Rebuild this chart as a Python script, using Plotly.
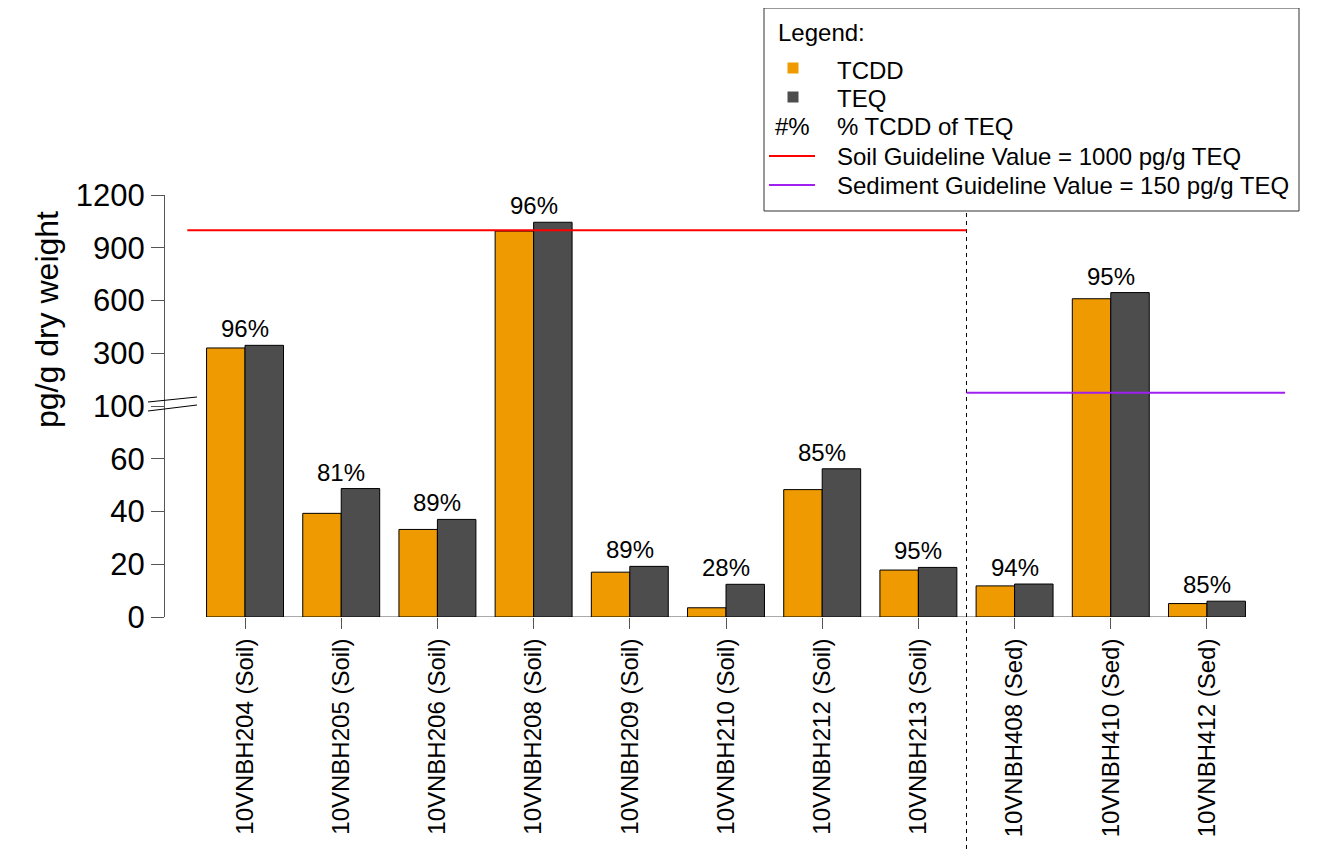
import numpy as np
import plotly.graph_objects as go

# ---------------- data ----------------
samples = ["10VNBH204 (Soil)", "10VNBH205 (Soil)", "10VNBH206 (Soil)", "10VNBH208 (Soil)",
           "10VNBH209 (Soil)", "10VNBH210 (Soil)", "10VNBH212 (Soil)", "10VNBH213 (Soil)",
           "10VNBH408 (Sed)", "10VNBH410 (Sed)", "10VNBH412 (Sed)"]
tcdd = [330, 39.3, 33.2, 995, 17.0, 3.5, 48.3, 17.8, 11.8, 610, 5.1]
teq = [345, 48.7, 37.0, 1045, 19.2, 12.4, 56.2, 18.8, 12.5, 645, 6.0]
pct_labels = ["96%", "81%", "89%", "96%", "89%", "28%", "85%", "95%", "94%", "95%", "85%"]
y_tick_values = [0, 20, 40, 60, 100, 300, 600, 900, 1200]
soil_guideline = 1000
sediment_guideline = 150

# ---------------- layout constants ----------------
OFF = 8  # page body margin in the browser
W, H = 1317 - 2 * OFF, 861 - 2 * OFF
PL, PR, PT, PB = 165, 1287, 195, 617     # plot area in window pixels
L, T = PL - OFF, PT - OFF
R, B = W - (PR - OFF), H - (PB - OFF)
PW, PH = PR - PL, PB - PT
FONT = "Liberation Sans, Arial, Helvetica, sans-serif"
ORANGE = "#EE9A00"
GREY = "#4D4D4D"
AXC = "#555555"

disp_idx = np.arange(len(y_tick_values))


def to_disp(v):
    return np.interp(v, y_tick_values, disp_idx)


def pxx(p):
    return (p - PL) / PW


def pxy(p):
    return (PB - p) / PH


centers = np.arange(len(samples)) * 2.5
n_soil = sum(1 for s in samples if "Soil" in s)
split_x = (centers[n_soil - 1] + centers[n_soil]) / 2

fig = go.Figure()
fig.add_trace(go.Bar(x=centers - 0.5, y=to_disp(tcdd), width=1, name="TCDD",
                     marker=dict(color=ORANGE, line=dict(color="black", width=1)),
                     hoverinfo="skip"))
fig.add_trace(go.Bar(x=centers + 0.5, y=to_disp(teq), width=1, name="TEQ",
                     marker=dict(color=GREY, line=dict(color="black", width=1)),
                     hoverinfo="skip"))

shapes = []
shapes.append(dict(type="line", xref="x", yref="y", x0=centers[0], x1=centers[-1], y0=0, y1=0,
                   line=dict(color=AXC, width=1), layer="below"))
shapes.append(dict(type="line", xref="x", yref="paper", x0=split_x, x1=split_x,
                   y0=pxy(857), y1=pxy(OFF), line=dict(color="black", width=1, dash="4px,4px")))
shapes.append(dict(type="line", xref="x", yref="y", x0=-1.5, x1=split_x,
                   y0=float(to_disp(soil_guideline)), y1=float(to_disp(soil_guideline)),
                   line=dict(color="#FF0000", width=2)))
shapes.append(dict(type="line", xref="x", yref="y", x0=split_x, x1=27.03,
                   y0=float(to_disp(sediment_guideline)), y1=float(to_disp(sediment_guideline)),
                   line=dict(color="#A020F0", width=2)))
for (ya, yb) in [(402, 397), (411, 405)]:
    shapes.append(dict(type="line", xref="paper", yref="paper", x0=pxx(148), x1=pxx(197),
                       y0=pxy(ya), y1=pxy(yb), line=dict(color="black", width=1)))
shapes.append(dict(type="rect", xref="paper", yref="paper", x0=pxx(764), x1=pxx(1299),
                   y0=pxy(211), y1=pxy(8), fillcolor="white", line=dict(color="#333333", width=1)))
for yc, col in [(68, ORANGE), (97, GREY)]:
    shapes.append(dict(type="rect", xref="paper", yref="paper", x0=pxx(787.5), x1=pxx(798.5),
                       y0=pxy(yc + 5.5), y1=pxy(yc - 5.5), fillcolor=col, line=dict(width=0)))
for yc, col in [(156, "#FF0000"), (185, "#A020F0")]:
    shapes.append(dict(type="line", xref="paper", yref="paper", x0=pxx(769), x1=pxx(815),
                       y0=pxy(yc), y1=pxy(yc), line=dict(color=col, width=2)))

annotations = []
for c, a, b, lab in zip(centers, tcdd, teq, pct_labels):
    annotations.append(dict(x=c, y=float(to_disp(max(a, b))), xref="x", yref="y", text=lab,
                            showarrow=False, yanchor="bottom", xanchor="center", yshift=1,
                            font=dict(size=24, color="black", family=FONT)))
annotations.append(dict(x=pxx(47), y=pxy(320), xref="paper", yref="paper", text="pg/g dry weight",
                        textangle=-90, showarrow=False, xanchor="center", yanchor="middle",
                        font=dict(size=32, color="black", family=FONT)))
annotations.append(dict(x=pxx(776), y=pxy(33), xref="paper", yref="paper", text="Legend:",
                        showarrow=False, xanchor="left", yanchor="middle",
                        font=dict(size=24, color="black", family=FONT)))
annotations.append(dict(x=pxx(792.5), y=pxy(127), xref="paper", yref="paper", text="#%",
                        showarrow=False, xanchor="center", yanchor="middle",
                        font=dict(size=24, color="black", family=FONT)))
leg_texts = ["TCDD", "TEQ", "% TCDD of TEQ",
             f"Soil Guideline Value = {soil_guideline} pg/g TEQ",
             f"Sediment Guideline Value = {sediment_guideline} pg/g TEQ"]
for yc, t in zip([70, 98, 127, 156, 185], leg_texts):
    annotations.append(dict(x=pxx(835), y=pxy(yc), xref="paper", yref="paper", text=t,
                            showarrow=False, xanchor="left", yanchor="middle",
                            font=dict(size=24, color="black", family=FONT)))

fig.update_layout(
    width=W, height=H, autosize=False,
    margin=dict(l=L, r=R, t=T, b=B, pad=0),
    paper_bgcolor="white", plot_bgcolor="white",
    showlegend=False, barmode="overlay",
    font=dict(family=FONT, color="black"),
    shapes=shapes, annotations=annotations,
    xaxis=dict(range=[-2.08, 27.08], tickmode="array", tickvals=centers, ticktext=samples,
               tickangle=-90, ticks="outside", ticklen=11, tickcolor=AXC, tickwidth=1,
               showline=False, showgrid=False, zeroline=False,
               tickfont=dict(size=24, color="black", family=FONT)),
    yaxis=dict(range=[0, 8], tickmode="array", tickvals=disp_idx,
               ticktext=[str(v) for v in y_tick_values],
               ticks="outside", ticklen=13, tickcolor=AXC, tickwidth=1,
               showline=True, linecolor=AXC, linewidth=1,
               showgrid=False, zeroline=False,
               tickfont=dict(size=31, color="black", family=FONT)),
)

fig.write_html("out.html")
